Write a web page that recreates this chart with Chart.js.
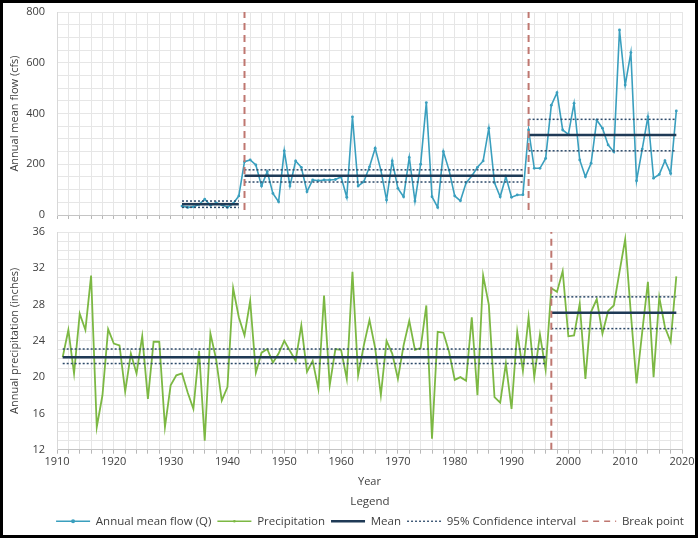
<!DOCTYPE html>
<html>
<head>
<meta charset="utf-8">
<script src="https://cdn.jsdelivr.net/npm/chart.js@4.4.0/dist/chart.umd.min.js"></script>
<style>
  html, body { margin: 0; padding: 0; background: #fff; }
  #wrap { position: relative; width: 698px; height: 538px; overflow: hidden; }
  #flowChart { position: absolute; left: 0; top: 0; }
  #precipChart { position: absolute; left: 0; top: 220px; }
  #frame { position: absolute; left: 0; top: 0; width: 698px; height: 538px; box-sizing: border-box; border: 3px solid #000; pointer-events: none; }
</style>
</head>
<body>
<div id="wrap">
  <canvas id="flowChart" width="698" height="228"></canvas>
  <canvas id="precipChart" width="740" height="317"></canvas>
  <div id="frame"></div>
</div>
<script>
  // annual mean flow (cfs), 1932-2019
  const flowFirstYear = 1932;
  const flowValues = [
    35, 30, 32, 42, 62, 38, 48, 40,
    30, 45, 75, 210, 217, 197, 114, 171, 85, 52,
    253, 114, 213, 188, 92, 138, 135, 138, 138, 140,
    150, 70, 387, 114, 131, 190, 263, 177, 59, 213,
    105, 72, 227, 55, 200, 443, 72, 30, 250, 177,
    75, 56, 127, 154, 188, 213, 342, 127, 72, 151,
    70, 79, 80, 335, 184, 184, 223, 433, 482, 335,
    318, 440, 217, 151, 204, 374, 342, 276, 249, 729,
    512, 640, 135, 260, 387, 145, 160, 214, 164, 410
  ];
  // flow segments between break points
  const flowSegStart = [1932, 1943, 1993];
  const flowSegEnd = [1942, 1992, 2019];
  const flowMean = [42, 155, 315];
  const flowCiLow = [30, 130, 253];
  const flowCiHigh = [55, 178, 377];
  const flowBreaks = [1943, 1993];

  // annual precipitation (inches), 1911-2019
  const precipFirstYear = 1911;
  const precipValues = [
    22.2, 25.2, 20.4, 27.0, 25.2, 31.2, 14.5, 18.0, 25.3,
    23.7, 23.5, 18.4, 22.6, 20.4, 24.5, 17.6, 23.9, 23.9, 14.5,
    19.1, 20.2, 20.4, 18.3, 16.5, 22.9, 13.0, 24.8, 22.0, 17.4,
    18.9, 29.8, 26.6, 24.6, 28.4, 20.5, 22.7, 23.1, 21.6, 22.6,
    24.0, 22.9, 21.8, 25.7, 20.6, 21.8, 18.7, 29.0, 19.1, 23.1,
    23.0, 19.8, 31.6, 20.2, 23.5, 26.3, 23.2, 18.0, 24.0, 22.6,
    19.8, 23.5, 26.2, 23.0, 23.2, 27.9, 13.2, 25.0, 24.9, 22.8,
    19.7, 20.0, 19.6, 26.6, 18.0, 31.2, 28.0, 17.8, 17.2, 21.5,
    16.5, 25.0, 20.7, 26.6, 20.0, 24.7, 20.8, 29.8, 29.4, 31.7,
    24.5, 24.6, 28.1, 19.8, 27.2, 28.6, 24.8, 27.3, 27.9, 31.6,
    35.2, 27.0, 19.3, 25.0, 30.5, 20.0, 28.8, 25.5, 23.9, 31.1
  ];
  const precipSegStart = [1911, 1997];
  const precipSegEnd = [1996, 2019];
  const precipMean = [22.2, 27.1];
  const precipCiLow = [21.5, 25.35];
  const precipCiHigh = [23.1, 28.85];
  const precipBreaks = [1997];

  const legendLabels = ['Annual mean flow (Q)', 'Precipitation', 'Mean', '95% Confidence interval', 'Break point'];

  const flowColor = '#3a9fbe';
  const precipColor = '#7cb843';
  const meanColor = '#1f3a56';
  const ciColor = '#2d4a6a';
  const breakColor = '#bf7770';
  const gridColor = '#e6e6e6';

  Chart.defaults.font.family = "'Open Sans', sans-serif";
  Chart.defaults.font.size = 11;
  Chart.defaults.color = '#404040';

  function seriesPoints(firstYear, values) {
    return values.map((v, i) => ({ x: firstYear + i, y: v }));
  }

  function segmentSets(starts, ends, levels, style) {
    return starts.map((s, i) => Object.assign({
      data: [{ x: s, y: levels[i] }, { x: ends[i], y: levels[i] }],
      pointRadius: 0
    }, style));
  }

  function breakSets(years, lo, hi) {
    return years.map(b => ({
      data: [{ x: b, y: lo }, { x: b, y: hi }],
      borderColor: breakColor, borderWidth: 2, borderDash: [7, 5], pointRadius: 0
    }));
  }

  function buildDatasets(mainData, mainStyle, starts, ends, mean, lo, hi, breaks, yMin, yMax) {
    const meanStyle = { borderColor: meanColor, borderWidth: 2.5 };
    const ciStyle = { borderColor: ciColor, borderWidth: 1.5, borderDash: [2, 2] };
    return [].concat(
      breakSets(breaks, yMin, yMax),
      segmentSets(starts, ends, mean, meanStyle),
      segmentSets(starts, ends, lo, ciStyle),
      segmentSets(starts, ends, hi, ciStyle),
      [Object.assign({ data: mainData }, mainStyle)]
    );
  }

  function xScale(showLabels, h) {
    return {
      type: 'linear', min: 1910, max: 2020,
      grid: { color: gridColor, tickColor: '#b8b8b8', tickLength: 4 },
      border: { color: '#c4c4c4' },
      ticks: {
        stepSize: 2, autoSkip: false, maxRotation: 0, padding: 2,
        callback: v => (showLabels && v % 10 === 0) ? String(v) : ''
      },
      title: showLabels ? { display: true, text: 'Year', padding: { top: 0, bottom: 5 } } : { display: false },
      afterFit: s => { s.height = h; }
    };
  }

  // tick padding would also pad the chart area, so the label gap comes from an invisible tick
  function yScale(min, max, step, labelStep, titleText) {
    return {
      min: min, max: max,
      grid: { color: gridColor, drawTicks: true, tickLength: 12, tickColor: 'rgba(0,0,0,0)' },
      border: { color: '#d8d8d8' },
      ticks: {
        stepSize: step, autoSkip: false, padding: 0,
        callback: v => ((v - min) % labelStep === 0) ? String(v) : ''
      },
      title: { display: true, text: titleText, padding: { top: 8, bottom: 0 } },
      afterFit: s => { s.width = 57; }
    };
  }

  const legendDots = {
    id: 'legendDots',
    afterDraw(chart) {
      const lg = chart.legend;
      if (!lg || !lg.options.display || !lg.legendHitBoxes) return;
      const ctx = chart.ctx;
      const half = lg.options.labels.font.size / 2;
      const w = lg.options.labels.pointStyleWidth;
      [0, 1].forEach(i => {
        const box = lg.legendHitBoxes[i];
        if (!box) return;
        ctx.save();
        ctx.fillStyle = lg.legendItems[i].strokeStyle;
        ctx.beginPath();
        ctx.arc(box.left + w / 2, box.top + half, i === 0 ? 2 : 1.3, 0, Math.PI * 2);
        ctx.fill();
        ctx.restore();
      });
    }
  };

  const flowChart = new Chart(document.getElementById('flowChart'), {
    type: 'line',
    data: {
      datasets: buildDatasets(
        seriesPoints(flowFirstYear, flowValues),
        { borderColor: flowColor, backgroundColor: flowColor, borderWidth: 1.6, pointRadius: 1.4, pointBorderWidth: 0 },
        flowSegStart, flowSegEnd, flowMean, flowCiLow, flowCiHigh, flowBreaks, 20, 800)
    },
    options: {
      responsive: false, animation: false, devicePixelRatio: 1,
      layout: { padding: { top: 12, right: 16, left: 0, bottom: 0 } },
      plugins: { legend: { display: false }, tooltip: { enabled: false } },
      scales: {
        x: xScale(false, 13),
        y: yScale(0, 800, 50, 200, 'Annual mean flow (cfs)')
      }
    }
  });

  const precipChart = new Chart(document.getElementById('precipChart'), {
    type: 'line',
    data: {
      datasets: buildDatasets(
        seriesPoints(precipFirstYear, precipValues),
        { borderColor: precipColor, borderWidth: 1.8, pointRadius: 0 },
        precipSegStart, precipSegEnd, precipMean, precipCiLow, precipCiHigh, precipBreaks, 12, 36)
    },
    options: {
      responsive: false, animation: false, devicePixelRatio: 1,
      layout: { padding: { top: 12, right: 0, left: 0, bottom: 0 } },
      plugins: {
        tooltip: { enabled: false },
        legend: {
          display: true, position: 'bottom',
          title: { display: true, text: 'Legend', font: { size: 11.5 }, padding: { top: 2, bottom: 0 } },
          labels: {
            usePointStyle: true, pointStyleWidth: 34, padding: 6,
            font: { size: 11.5 },
            generateLabels: () => [
              { text: legendLabels[0], strokeStyle: flowColor, fillStyle: flowColor, lineWidth: 1.6, pointStyle: 'line', lineDash: [] },
              { text: legendLabels[1], strokeStyle: precipColor, fillStyle: precipColor, lineWidth: 1.6, pointStyle: 'line', lineDash: [] },
              { text: legendLabels[2], strokeStyle: meanColor, fillStyle: meanColor, lineWidth: 2.5, pointStyle: 'line', lineDash: [] },
              { text: legendLabels[3], strokeStyle: ciColor, fillStyle: ciColor, lineWidth: 1.3, pointStyle: 'line', lineDash: [2, 2] },
              { text: legendLabels[4], strokeStyle: breakColor, fillStyle: breakColor, lineWidth: 1.6, pointStyle: 'line', lineDash: [6, 5] }
            ]
          }
        }
      },
      scales: {
        x: xScale(true, 44),
        y: yScale(12, 36, 1, 4, 'Annual precipitation (inches)'),
        // empty right-hand box so the legend centres under the plot like the original
        yR: {
          position: 'right', display: true,
          grid: { display: false }, border: { display: false },
          ticks: { display: false },
          afterFit: s => { s.width = 58; }
        }
      }
    },
    plugins: [legendDots]
  });
</script>
</body>
</html>
